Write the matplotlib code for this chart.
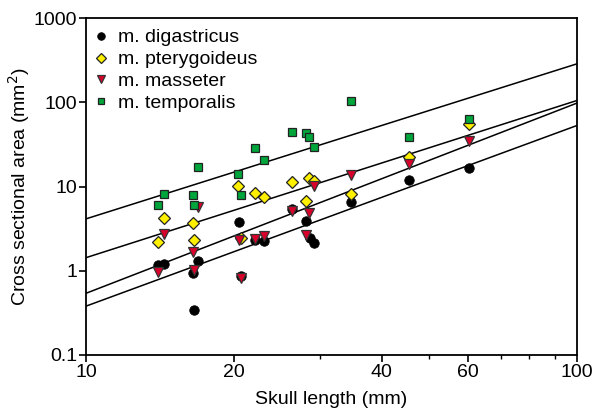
import matplotlib
matplotlib.use("Agg")
import matplotlib.pyplot as plt
from matplotlib.ticker import FixedLocator, NullLocator, FixedFormatter, NullFormatter
import numpy as np

plt.rcParams['font.family'] = ['Liberation Sans', 'DejaVu Sans']

# ---- data ----
dig_x = [14.0, 14.4, 16.5, 16.6, 16.9, 20.5, 20.7, 22.1, 23.0, 26.3, 28.1, 28.6, 29.1, 34.7, 45.5, 60.2]
dig_y = [1.16, 1.21, 0.94, 0.344, 1.32, 3.79, 0.87, 2.33, 2.25, 5.44, 3.92, 2.46, 2.15, 6.54, 12.0, 16.8]

pte_x = [14.0, 14.4, 16.5, 16.6, 20.4, 20.7, 22.1, 23.0, 26.3, 28.1, 28.5, 29.1, 34.7, 45.5, 60.2]
pte_y = [2.21, 4.22, 3.68, 2.31, 10.2, 2.44, 8.36, 7.56, 11.2, 6.72, 12.6, 11.5, 8.13, 22.5, 55.6]

mas_x = [14.0, 14.4, 16.5, 16.6, 16.9, 20.5, 20.7, 22.1, 23.0, 26.3, 28.1, 28.5, 29.1, 34.7, 45.5, 60.2]
mas_y = [0.965, 2.75, 1.67, 1.03, 5.67, 2.29, 0.83, 2.38, 2.58, 5.15, 2.68, 4.84, 10.2, 13.8, 18.6, 34.9]

tem_x = [14.0, 14.4, 16.5, 16.6, 16.9, 20.4, 20.7, 22.1, 23.0, 26.3, 28.1, 28.5, 29.1, 34.7, 45.5, 60.2]
tem_y = [5.96, 8.2, 7.83, 6.02, 17.0, 14.05, 7.98, 28.3, 20.9, 43.8, 42.6, 38.6, 29.6, 103, 38.2, 63.7]

# regression lines: values at skull length 10 and 100 mm
fit_x = [10, 100]
fit_dig = [0.38, 53.0]
fit_pte = [1.43, 105.0]
fit_mas = [0.54, 97.8]
fit_tem = [4.13, 286.0]

labels = ["m. digastricus", "m. pterygoideus", "m. masseter", "m. temporalis"]
x_ticks = [10, 20, 40, 60, 100]
x_minor = [30, 50, 70, 80, 90]
y_ticks = [0.1, 1, 10, 100, 1000]
y_ticklabels = ["0.1", "1", "10", "100", "1000"]

# ---- figure ----
fig = plt.figure(figsize=(5.94, 4.15), dpi=100)
ax = fig.add_axes([0.1448, 0.1446, 0.8266, 0.812])
ax.set_xscale('log')
ax.set_yscale('log')
ax.set_xlim(10, 100)
ax.set_ylim(0.1, 1000)

for fy in (fit_dig, fit_pte, fit_mas, fit_tem):
    ax.plot(fit_x, fy, color='black', lw=1.1, zorder=1)

ax.plot(dig_x, dig_y, 'o', ms=6.8, mfc='black', mec='black', mew=0.6, ls='none', label=labels[0], zorder=3)
ax.plot(pte_x, pte_y, 'D', ms=5.8, mfc='#FFF000', mec='#222222', mew=0.9, ls='none', label=labels[1], zorder=4)
ax.plot(mas_x, mas_y, 'v', ms=7.0, mfc='#D8002A', mec='#333333', mew=0.9, ls='none', label=labels[2], zorder=5)
ax.plot(tem_x, tem_y, 's', ms=6.0, mfc='#00A53C', mec='#222222', mew=0.9, ls='none', label=labels[3], zorder=6)

ax.xaxis.set_major_locator(FixedLocator(x_ticks))
ax.xaxis.set_major_formatter(FixedFormatter([str(t) for t in x_ticks]))
ax.xaxis.set_minor_locator(FixedLocator(x_minor))
ax.xaxis.set_minor_formatter(NullFormatter())
ax.yaxis.set_major_locator(FixedLocator(y_ticks))
ax.yaxis.set_major_formatter(FixedFormatter(y_ticklabels))
ax.yaxis.set_minor_locator(NullLocator())

ax.tick_params(which='major', direction='out', length=5, width=1.2, labelsize=14, pad=1.5)
ax.tick_params(which='minor', direction='out', length=3, width=1.0)
ax.tick_params(top=False, right=False)
for s in ax.spines.values():
    s.set_linewidth(1.3)

ax.set_xlabel("Skull length (mm)", fontsize=14, labelpad=7)
ax.set_ylabel("Cross sectional area (mm$^2$)", fontsize=14, labelpad=1)

leg = ax.legend(loc='upper left', bbox_to_anchor=(0.0, 0.988), frameon=False,
                fontsize=14, markerscale=0.8,
                handlelength=0.8, handletextpad=0.5, labelspacing=0.22,
                borderaxespad=0.1, borderpad=0.25)

fig.savefig("out.png", dpi=100)
